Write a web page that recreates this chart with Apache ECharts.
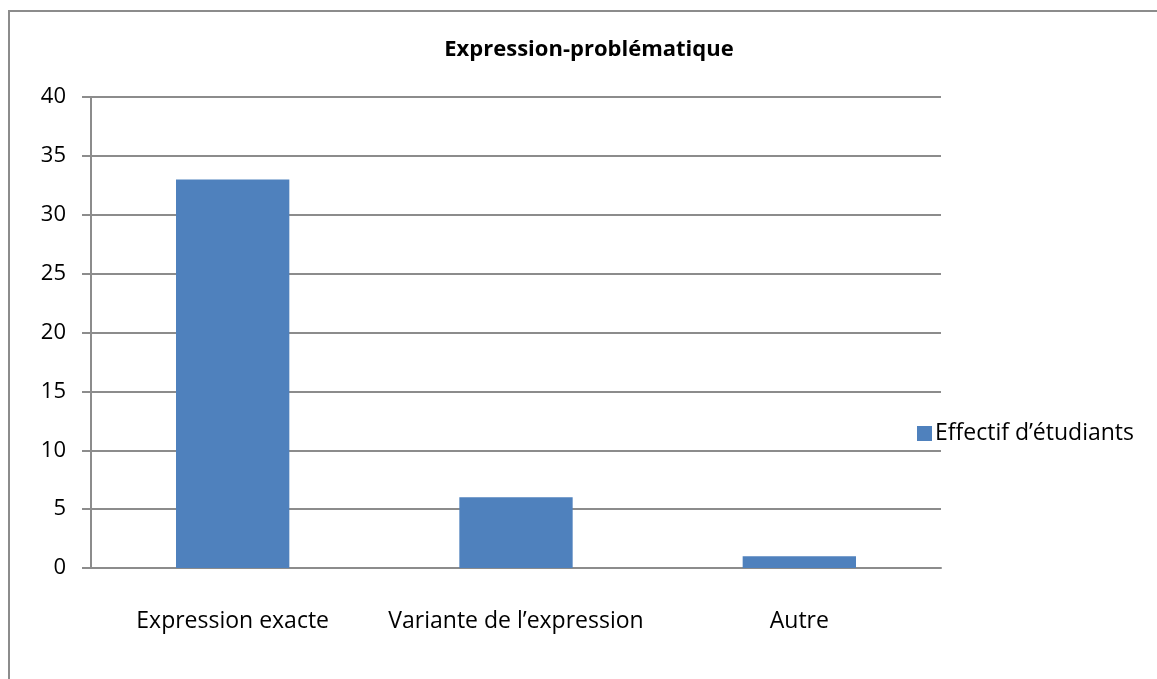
<!DOCTYPE html>
<html>
<head>
<meta charset="utf-8">
<script src="https://cdn.jsdelivr.net/npm/echarts@6/dist/echarts.min.js"></script>
<style>
  html, body { margin: 0; padding: 0; background: #fff; }
  #frame {
    position: absolute; left: 8px; top: 10px; right: 0; bottom: 0;
    border-left: 2px solid #8c8c8c; border-top: 2px solid #8c8c8c;
  }
  #main { position: absolute; left: 0; top: 0; width: 1157px; height: 679px; }
</style>
</head>
<body>
<div id="frame"></div>
<div id="main"></div>
<script>
// données
const categories = ['Expression exacte', 'Variante de l\u2019expression', 'Autre']
const effectifs = [33, 6, 1]
const seriesName = 'Effectif d\u2019\u00e9tudiants'

const myChart = echarts.init(document.getElementById('main'))
const font = '"Open Sans", "Noto Sans", sans-serif'

const option = {
  animation: false,
  title: {
    text: 'Expression-probl\u00e9matique',
    left: 584, top: 34, textAlign: 'center',
    textStyle: { fontFamily: font, fontSize: 22, fontWeight: 'bold', color: '#000' }
  },
  legend: {
    left: 912, top: 417,
    itemWidth: 15, itemHeight: 15, itemGap: 6,
    icon: 'rect',
    textStyle: { fontFamily: font, fontSize: 23, color: '#000', padding: [0, 0, 0, -2] },
    data: [seriesName]
  },
  grid: { left: 91, right: 216, top: 97, bottom: 111 },
  xAxis: {
    type: 'category',
    data: categories,
    axisLine: { lineStyle: { color: '#8c8c8c', width: 2 } },
    axisTick: { show: false },
    axisLabel: { interval: 0, hideOverlap: false, margin: 42, fontFamily: font, fontSize: 23, color: '#000' }
  },
  yAxis: {
    type: 'value',
    min: 0, max: 40, interval: 5,
    axisLine: { show: true, lineStyle: { color: '#8c8c8c', width: 2 } },
    axisTick: { show: true, length: 9, lineStyle: { color: '#8c8c8c', width: 2 } },
    splitLine: { lineStyle: { color: '#8c8c8c', width: 2 } },
    axisLabel: { margin: 25, fontFamily: font, fontSize: 22, color: '#000' }
  },
  series: [
    {
      name: seriesName,
      type: 'bar',
      barWidth: '40%',
      itemStyle: { color: '#4f81bd' },
      data: effectifs
    }
  ]
}
myChart.setOption(option)
</script>
</body>
</html>
